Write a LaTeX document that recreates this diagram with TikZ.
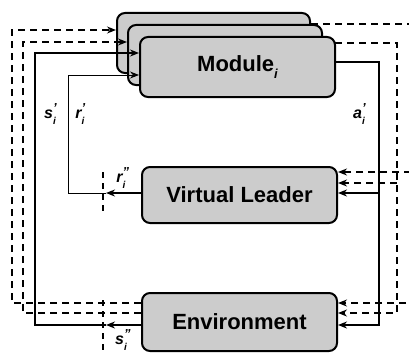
\documentclass[tikz,border=0pt]{standalone}
\usepackage{fontspec}
\setmainfont{Liberation Sans}
\usetikzlibrary{arrows.meta}
% signal label: letter, primes, subscript i (bold italic sans)
\newcommand{\siglab}[2]{\textbf{\textit{#1\rlap{\raisebox{0.4em}{\fontsize{13}{13}\selectfont #2}}\raisebox{-0.35em}{\fontsize{10}{10}\selectfont i}}}}
\begin{document}
\begin{tikzpicture}[x=1pt,y=-1pt,
  box/.style={draw=black, line width=2pt, fill=black!20, rounded corners=8pt,
    minimum width=195pt, minimum height=60pt, inner sep=0pt,
    font=\fontsize{22}{26}\selectfont\bfseries},
  sol/.style={line width=1.8pt},
  thinl/.style={line width=0.9pt},
  dsh/.style={line width=1.4pt, dash pattern=on 7pt off 5pt},
  tap/.style={line width=1.6pt, dash pattern=on 6pt off 5pt},
  tip/.style={-{Stealth[length=9pt,width=7pt]}},
  lab/.style={font=\fontsize{16}{18}\selectfont, inner sep=0pt}]
\useasboundingbox (0,0) rectangle (409,353);

% module stack and the two shared blocks
\node[box, minimum width=193pt] (back) at (213.5,43) {};
\node[box, minimum width=194pt] (mid) at (225,55) {};
\node[box, minimum height=56pt] (vl) at (239.5,195) {Virtual Leader};
\node[box, minimum height=58pt] (env) at (239.5,322) {Environment};

% output of the middle module (drawn under the front box)
\draw[dsh,tip] ([yshift=12pt]mid.east) -- (397,43) -- (397,313) -- ([yshift=9pt]env.east);
\node[box] (mod) at (237.5,67) {Module\raisebox{-0.3em}{\fontsize{13}{13}\selectfont\itshape i}};

% right side: back module to the shared blocks
\draw[dsh,tip] ([yshift=19pt]back.east) -- (411,24) -- (411,303) -- ([yshift=19pt]env.east);
\draw[dsh,tip] (411,172) -- ([yshift=23pt]vl.east);
\draw[dsh,tip] (397,183) -- ([yshift=12pt]vl.east);

% action of module i
\draw[sol,tip] ([yshift=5pt]mod.east) -- (379,62) -- (379,325) -- ([yshift=-3pt]env.east);
\draw[sol,tip] (379,193) -- ([yshift=2pt]vl.east);

% left side: environment state and reference back into the modules
\draw[dsh,tip] ([yshift=19pt]env.west) -- (12,303) -- (12,30) -- ([yshift=13pt]back.west);
\draw[dsh,tip] ([yshift=9pt]env.west) -- (23,313) -- (23,42) -- ([yshift=13pt]mid.west);
\draw[sol,tip] ([yshift=-3pt]env.west) -- (106,325);
\draw[sol,tip] (106,325) -- (35,325) -- (35,53) -- ([yshift=14pt]mod.west);
\draw[sol,tip] ([yshift=2pt]vl.west) -- (106,193);
\draw[thinl,tip] (106,193) -- (68,193) -- (68,75) -- ([yshift=-8pt]mod.west);

% measurement taps
\coordinate (rt) at (103,172);
\coordinate (rb) at (103,212);
\coordinate (st) at (103,300);
\coordinate (sb) at (103,353);
\draw[tap] (rt) -- (rb);
\draw[tap] (st) -- (sb);

% labels
\node[lab] (ls) at (50,114) {\siglab{s}{'}};
\node[lab] (lr) at (80,114) {\siglab{r}{'}};
\node[lab] (la) at (359,114) {\siglab{a}{'}};
\node[lab] (lr2) at (121,178) {\siglab{r}{''}};
\node[lab] (ls2) at (121,340) {\siglab{s}{''}};
\end{tikzpicture}
\end{document}
